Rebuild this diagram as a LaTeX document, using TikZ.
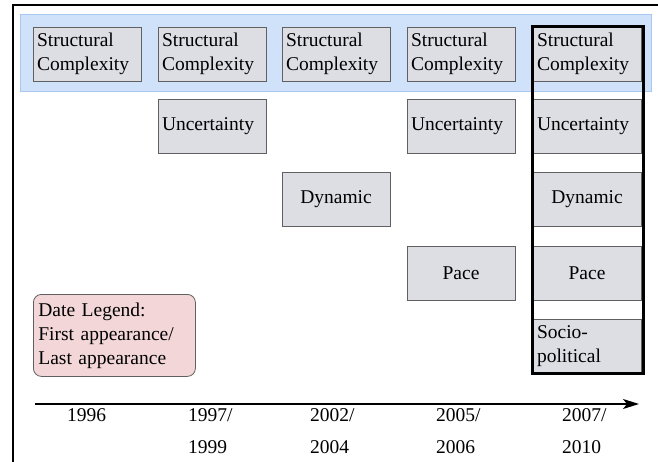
\documentclass[tikz,border=0pt]{standalone}
\usepackage{fontspec}
\setmainfont{Liberation Serif}
\usetikzlibrary{arrows.meta}
\definecolor{boxfill}{HTML}{DCDEE3}
\definecolor{boxline}{HTML}{606060}
\definecolor{bandfill}{HTML}{CFE2FA}
\definecolor{bandline}{HTML}{A8C8F0}
\definecolor{legfill}{HTML}{F2D6D8}
\tikzset{
  factor/.style={draw=boxline,fill=boxfill,line width=0.8pt,
    minimum width=108pt,minimum height=54pt,inner xsep=4pt,inner ysep=0pt},
  factorl/.style={factor,text width=100pt,align=left},
  factorc/.style={factor,text width=100pt,align=center},
  yearlab/.style={anchor=north west,inner sep=0pt,align=left,
    font=\fontsize{19.5}{32}\selectfont}
}
\begin{document}
\begin{tikzpicture}[x=1pt,y=-1pt,>=latex,font=\fontsize{19.5}{24}\selectfont]
  \useasboundingbox (0,0) rectangle (658,462);
  % frame and band
  \draw[line width=1.5pt] (13,462) -- (13,5) -- (658,5);
  \draw[draw=bandline,fill=bandfill,line width=1pt] (20,15) rectangle (651,92);
  % factor boxes
  \foreach \x [count=\i] in {87,212,336,461,587}
    \node[factorl] (sc\i) at (\x,54) {Structural\\Complexity};
  \node[factorl] (un2) at (212,126) {Uncertainty};
  \node[factorl] (un4) at (461,126) {Uncertainty};
  \node[factorl] (un5) at (587,126) {Uncertainty};
  \node[factorc] (dy3) at (336,199) {Dynamic};
  \node[factorc] (dy5) at (587,199) {Dynamic};
  \node[factorc] (pa4) at (461,273) {Pace};
  \node[factorc] (pa5) at (587,273) {Pace};
  \node[factorl] (so5) at (587,346) {Socio-\\political};
  \draw[line width=2.5pt] (sc5.north west) rectangle ([xshift=2pt]so5.south east);
  % legend
  \node[draw=boxline,fill=legfill,rounded corners=8pt,line width=0.8pt,
    anchor=north west,minimum width=162pt,minimum height=82pt,
    text width=152pt,inner xsep=5pt,align=left] (legend) at (33,294)
    {Date Legend:\\First appearance/\\Last appearance};
  % time axis
  \coordinate (ax0) at (35,404);
  \coordinate (ax1) at (639,404);
  \draw[line width=1.5pt,-{Stealth[length=16pt,width=10pt,inset=4pt]}] (ax0) -- (ax1);
  \node[yearlab] (yr1) at (67,408) {1996};
  \node[yearlab] (yr2) at (188,408) {1997/\\1999};
  \node[yearlab] (yr3) at (310,408) {2002/\\2004};
  \node[yearlab] (yr4) at (436,408) {2005/\\2006};
  \node[yearlab] (yr5) at (562,408) {2007/\\2010};
\end{tikzpicture}
\end{document}
